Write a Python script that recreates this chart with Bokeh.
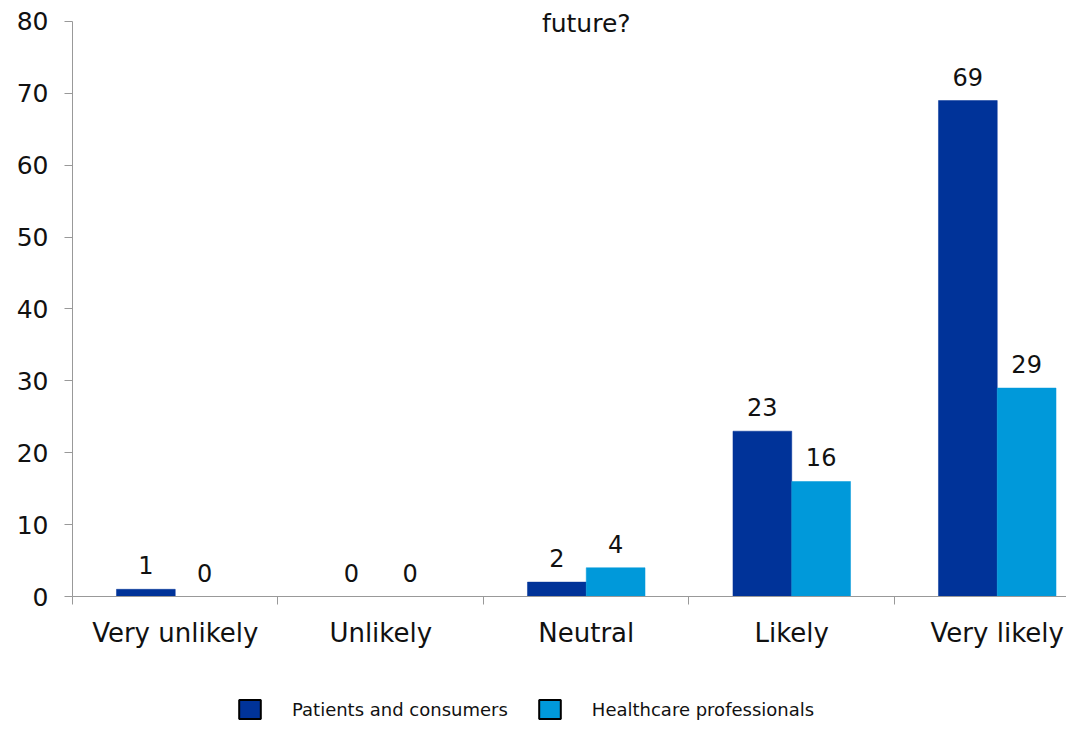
from bokeh.plotting import figure
from bokeh.models import (ColumnDataSource, FixedTicker, Legend, LegendItem,
                          Range1d, LinearAxis)
from bokeh.layouts import column
from bokeh.core.properties import value
from bokeh.embed import file_html
from bokeh.resources import INLINE

# ---- data ----
categories = ["Very unlikely", "Unlikely", "Neutral", "Likely", "Very likely"]
patients = [1, 0, 2, 23, 69]
professionals = [0, 0, 4, 16, 29]
series_names = ["Patients and consumers", "Healthcare professionals"]
y_ticks = [0, 10, 20, 30, 40, 50, 60, 70, 80]
title_text = "future?"

DARK = "#003399"
LIGHT = "#0099DA"
FONT = "DejaVu Sans"
TXT = "#111111"

idx = list(range(len(categories)))
src = ColumnDataSource(dict(
    xd=[i + 0.357 for i in idx],
    xl=[i + 0.643 for i in idx],
    pat=patients,
    pro=professionals,
    pat_txt=[str(v) for v in patients],
    pro_txt=[str(v) for v in professionals],
))

W = 1066
p = figure(width=W, height=650, output_backend="svg", toolbar_location=None,
           x_range=Range1d(0, 4.837), y_range=Range1d(0, 82.92),
           min_border_left=72, min_border_right=0, min_border_top=0,
           min_border_bottom=53, x_axis_location=None, y_axis_location=None)
p.outline_line_color = None
p.xgrid.visible = False
p.ygrid.visible = False

# bars
p.vbar(x="xd", top="pat", width=0.286, bottom=0, source=src,
       fill_color=DARK, line_color=DARK, line_width=0.5)
p.vbar(x="xl", top="pro", width=0.286, bottom=0, source=src,
       fill_color=LIGHT, line_color=LIGHT, line_width=0.5)

# value labels
for xcol, tcol, ycol in (("xd", "pat_txt", "pat"), ("xl", "pro_txt", "pro")):
    p.text(x=xcol, y=ycol, text=tcol, source=src, text_align="center",
           text_baseline="bottom", y_offset=-15, text_font=value(FONT),
           text_font_size="24px", text_color=TXT)

# title (only its last line is visible in the reference)
p.text(x=[2.5], y=[79.72], text=[title_text], text_align="center",
       text_baseline="alphabetic", text_font=value(FONT), text_font_size="25px",
       text_color=TXT)

# axes
GRAY = "#999999"
yax = LinearAxis(ticker=FixedTicker(ticks=y_ticks), bounds=(0, 80))
yax.axis_line_color = GRAY
yax.major_tick_line_color = GRAY
yax.major_tick_out = 8
yax.major_tick_in = 0
yax.minor_tick_line_color = None
yax.major_label_standoff = 16
yax.major_label_text_font = FONT
yax.major_label_text_font_size = "25px"
yax.major_label_text_color = TXT
p.add_layout(yax, "left")

centers = [i + 0.5 for i in idx]
xax = LinearAxis(ticker=FixedTicker(ticks=centers, minor_ticks=[float(i) for i in idx]))
xax.major_label_overrides = {c: name for c, name in zip(centers, categories)}
xax.axis_line_color = GRAY
xax.major_tick_line_color = None
xax.major_tick_out = 0
xax.major_tick_in = 0
xax.minor_tick_line_color = GRAY
xax.minor_tick_out = 8
xax.minor_tick_in = 0
xax.major_label_standoff = 13
xax.major_label_text_font = FONT
xax.major_label_text_font_size = "26px"
xax.major_label_text_color = TXT
p.add_layout(xax, "below")

# legend in its own strip below the chart
lg = figure(width=W, height=72, output_backend="svg", toolbar_location=None,
            x_range=Range1d(0, 1), y_range=Range1d(0, 1),
            min_border_left=72, min_border_right=0, min_border_top=0,
            min_border_bottom=0, x_axis_location=None, y_axis_location=None)
lg.outline_line_color = None
lg.xgrid.visible = False
lg.ygrid.visible = False
nan = float("nan")
r1 = lg.vbar(x=[0.5], top=[nan], bottom=[nan], width=0.1, fill_color=DARK,
             line_color="black", line_width=2)
r2 = lg.vbar(x=[0.5], top=[nan], bottom=[nan], width=0.1, fill_color=LIGHT,
             line_color="black", line_width=2)
legend = Legend(items=[LegendItem(label=series_names[0], renderers=[r1]),
                       LegendItem(label=series_names[1], renderers=[r2])],
                orientation="horizontal", location=(164, 1),
                glyph_width=27, glyph_height=24, label_standoff=29, spacing=28,
                padding=0, margin=0, border_line_color=None,
                background_fill_alpha=0,
                label_text_font=FONT, label_text_font_size="18px",
                label_text_color=TXT)
lg.add_layout(legend)

layout = column(p, lg, spacing=0)
open("out.html", "w").write(file_html(layout, INLINE))
